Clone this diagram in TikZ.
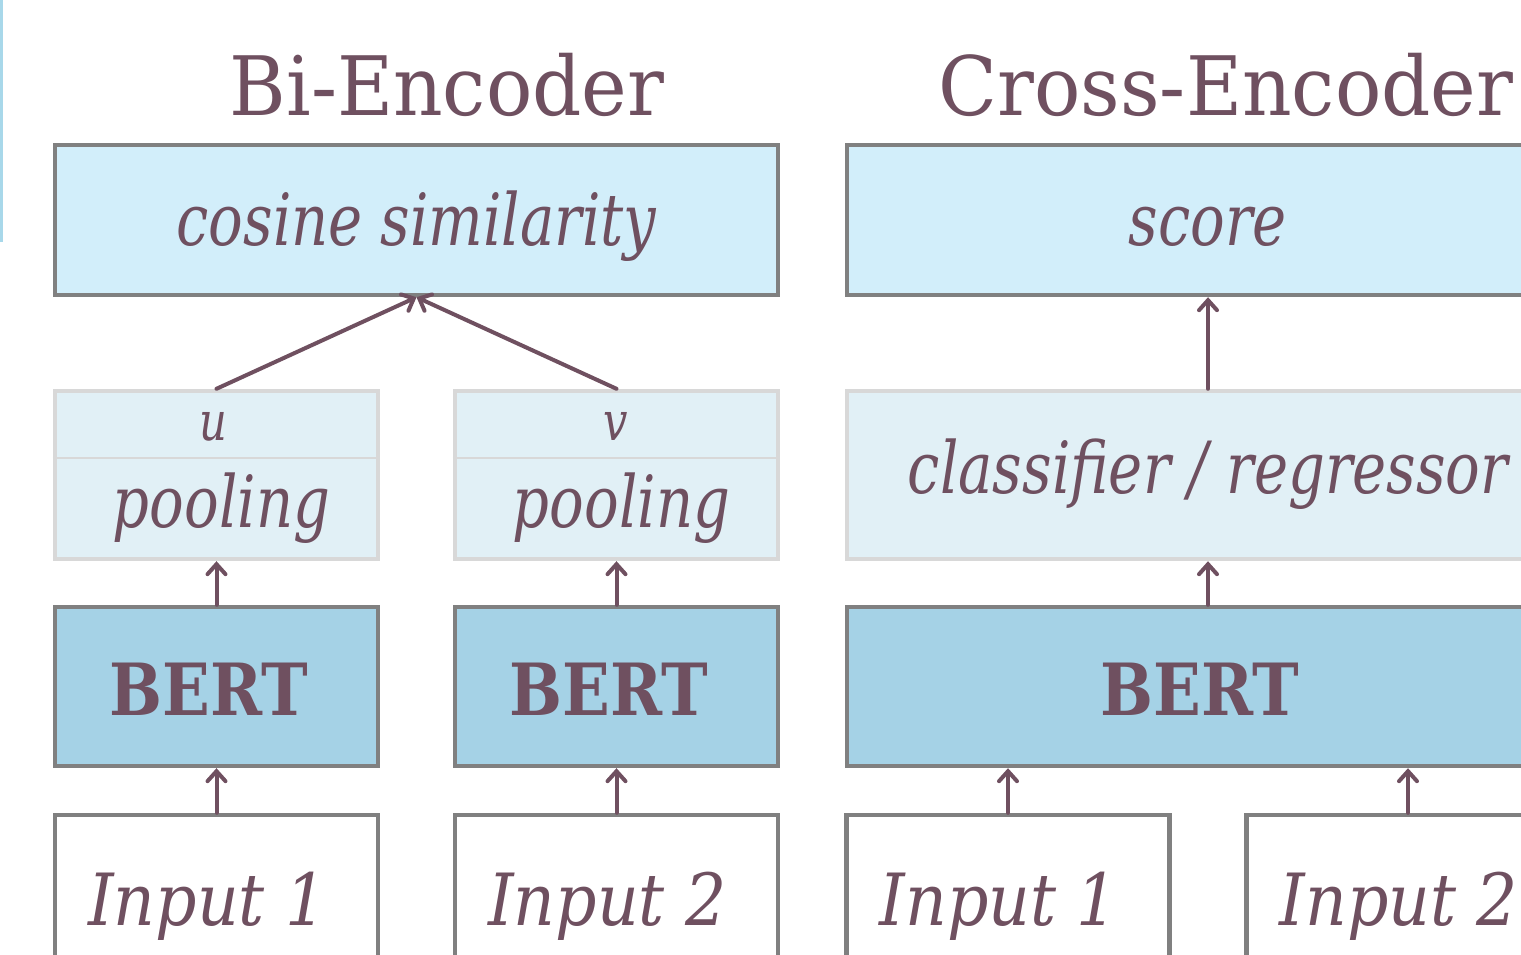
\documentclass[tikz,border=0pt]{standalone}
\usepackage{fontspec}
\setmainfont{DejaVu Serif}
\newfontfamily\titlefont{DejaVu Serif}[FakeStretch=0.94]
\newfontfamily\labfont{DejaVu Serif}[FakeStretch=0.8]
\newfontfamily\inputfont{DejaVu Serif}[FakeStretch=0.9]
\newfontfamily\bertfont{DejaVu Serif}[FakeStretch=0.87]
\usetikzlibrary{arrows.meta}

\definecolor{txtc}{RGB}{111,80,96}
\definecolor{boxgray}{RGB}{128,128,128}
\definecolor{simfill}{RGB}{210,238,250}
\definecolor{poolfill}{RGB}{225,240,246}
\definecolor{poolline}{RGB}{216,216,216}
\definecolor{bertfill}{RGB}{165,210,230}
\definecolor{stripc}{RGB}{168,216,234}

\begin{document}
\begin{tikzpicture}[x=0.5pt, y=-0.5pt,
  box/.style={draw=boxgray, line width=2.2pt, inner sep=0pt, text=txtc},
  simbox/.style={box, fill=simfill, font=\labfont\itshape\fontsize{36}{36}\selectfont,
    text height=25pt, text depth=0pt, minimum height=75pt},
  poolbox/.style={box, draw=poolline, fill=poolfill, font=\labfont\itshape\fontsize{36}{36}\selectfont,
    text height=52pt, text depth=0pt, minimum height=84pt},
  bertbox/.style={box, fill=bertfill, font=\bertfont\bfseries\fontsize{36}{36}\selectfont,
    text height=28.5pt, text depth=0pt, minimum height=79.5pt,
    execute at end node={\hspace{8pt}}},
  inbox/.style={box, fill=white, font=\inputfont\itshape\fontsize{36}{36}\selectfont,
    text height=30.5pt, text depth=0pt, minimum height=79.5pt,
    execute at end node={\hspace{9pt}}},
  narrow/.style={minimum width=161.5pt},
  wide/.style={minimum width=361pt},
  vecname/.style={text=txtc, inner sep=0pt, anchor=base, font=\labfont\itshape\fontsize{27}{27}\selectfont},
  heading/.style={text=txtc, inner sep=0pt, anchor=base, font=\titlefont\fontsize{41}{41}\selectfont},
  arr/.style={draw=txtc, line width=2pt, line cap=round, -{Straight Barb[length=5pt, width=9pt, line cap=round]}},
  divline/.style={draw=poolline, line width=1pt}]

% ----------------------------
% FRAME
% ----------------------------
\useasboundingbox (0,0) rectangle (1521,954);
\clip (0,0) rectangle (1521,954);

\fill[stripc] (0,0) rectangle (3,242);

% ----------------------------
% HEADINGS
% ----------------------------
\node[heading] (biTitle) at (447,115) {Bi-Encoder};
\node[heading] (crossTitle) at (1226,115) {Cross-Encoder};

% ----------------------------
% BI-ENCODER
% ----------------------------
\node[simbox, minimum width=361.5pt] (cosSim) at (416.5,220) {cosine similarity};

\node[poolbox, narrow] (poolL) at (216.5,475) {\hspace{5pt}pooling};
\node[poolbox, narrow] (poolR) at (616.5,475) {\hspace{5pt}pooling};
\draw[divline] ([yshift=-34.5pt]poolL.north west) -- ([yshift=-34.5pt]poolL.north east);
\draw[divline] ([yshift=-34.5pt]poolR.north west) -- ([yshift=-34.5pt]poolR.north east);
\node[vecname] (vecU) at (213,440) {u};
\node[vecname] (vecV) at (616,440) {v};

\node[bertbox, narrow] (bertL) at (216.5,686.5) {BERT};
\node[bertbox, narrow] (bertR) at (616.5,686.5) {BERT};

\node[inbox, narrow] (inL) at (216.5,894.5) {Input 1};
\node[inbox, narrow] (inR) at (616.5,894.5) {Input 2};

\draw[arr] (poolL.north) -- (cosSim.south);
\draw[arr] (poolR.north) -- (cosSim.south);
\draw[arr] (bertL.north) -- (poolL.south);
\draw[arr] (bertR.north) -- (poolR.south);
\draw[arr] (inL.north) -- (bertL.south);
\draw[arr] (inR.north) -- (bertR.south);

% ----------------------------
% CROSS-ENCODER
% ----------------------------
\node[simbox, wide] (score) at (1208,220) {score};
\node[poolbox, wide, text height=18pt] (clf) at (1208,475) {classifier / regressor};
\node[bertbox, wide] (bertX) at (1208,686.5) {BERT};

\node[inbox, narrow] (inXa) at (1008,894.5) {Input 1};
\node[inbox, narrow] (inXb) at (1408,894.5) {Input 2};

\draw[arr] (clf.north) -- (score.south);
\draw[arr] (bertX.north) -- (clf.south);
\draw[arr] (inXa.north) -- (inXa.north |- bertX.south);
\draw[arr] (inXb.north) -- (inXb.north |- bertX.south);

\end{tikzpicture}
\end{document}
